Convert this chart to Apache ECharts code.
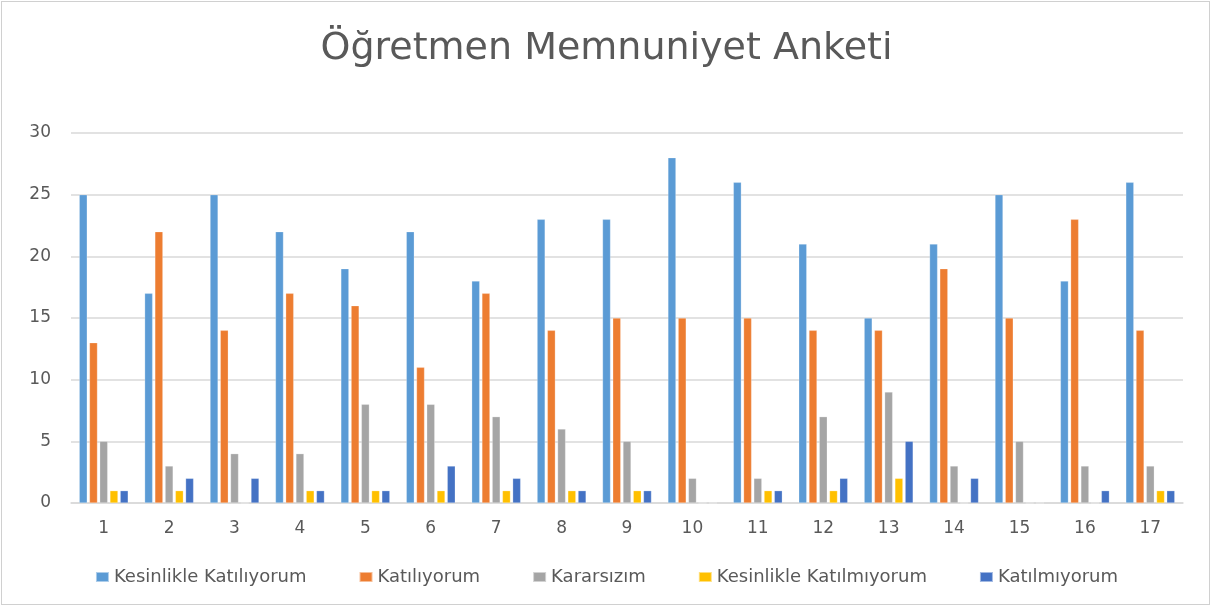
<!DOCTYPE html>
<html><head><meta charset="utf-8">
<script src="https://cdn.jsdelivr.net/npm/echarts@6/dist/echarts.min.js"></script>
<style>
html,body{margin:0;padding:0;background:#fff;}
#wrap{position:absolute;left:1px;top:1px;width:1209px;height:604px;border:1px solid #d0d0d0;box-sizing:border-box;}
#c{position:absolute;left:0;top:0;width:1213px;height:608px;}
</style></head>
<body><div id="wrap"></div><div id="c"></div>
<script>
const categories = ['1','2','3','4','5','6','7','8','9','10','11','12','13','14','15','16','17'];
const seriesNames = ['Kesinlikle Katılıyorum','Katılıyorum','Kararsızım','Kesinlikle Katılmıyorum','Katılmıyorum'];
const kesinlikleKatiliyorum = [25,17,25,22,19,22,18,23,23,28,26,21,15,21,25,18,26];
const katiliyorum = [13,22,14,17,16,11,17,14,15,15,15,14,14,19,15,23,14];
const kararsizim = [5,3,4,4,8,8,7,6,5,2,2,7,9,3,5,3,3];
const kesinlikleKatilmiyorum = [1,1,0,1,1,1,1,1,1,0,1,1,2,0,0,0,1];
const katilmiyorum = [1,2,2,1,1,3,2,1,1,0,1,2,5,2,0,1,1];
const yTicks = [0,5,10,15,20,25,30];
const colors = ['#5B9BD5','#ED7D31','#A5A5A5','#FFC000','#4472C4'];
const values = [kesinlikleKatiliyorum, katiliyorum, kararsizim, kesinlikleKatilmiyorum, katilmiyorum];
const FONT = 'DejaVu Sans';

const chart = echarts.init(document.getElementById('c'));
chart.setOption({
  animation:false,
  color: colors,
  title:{text:'Öğretmen Memnuniyet Anketi', left:'center', top:25,
    textStyle:{fontFamily:FONT, fontSize:38, fontWeight:'normal', color:'#595959'}},
  legend:{top:563, left:'center', itemWidth:13, itemHeight:10, itemGap:52, icon:'rect',
    textStyle:{fontFamily:FONT, fontSize:18, color:'#595959'}, data:seriesNames},
  grid:{left:71, right:30, top:133, bottom:105, containLabel:false},
  xAxis:{type:'category', data:categories,
    axisLine:{lineStyle:{color:'#d9d9d9', width:1.5}}, axisTick:{show:false},
    axisLabel:{fontFamily:FONT, fontSize:17, color:'#595959', margin:17}},
  yAxis:{type:'value', min:0, max:30, interval:5,
    axisLine:{show:false}, axisTick:{show:false},
    splitLine:{lineStyle:{color:'#d9d9d9', width:1.5}},
    axisLabel:{fontFamily:FONT, fontSize:17, color:'#595959', margin:20,
      formatter:(v)=> yTicks.includes(v) ? String(v) : ''}},
  series: seriesNames.map((n,i)=>({name:n, type:'bar', data:values[i], barWidth:8, barGap:'28%',
    itemStyle:{color:colors[i], borderColor:'rgba(255,255,255,0.5)', borderWidth:0.5}}))
});
</script></body></html>
